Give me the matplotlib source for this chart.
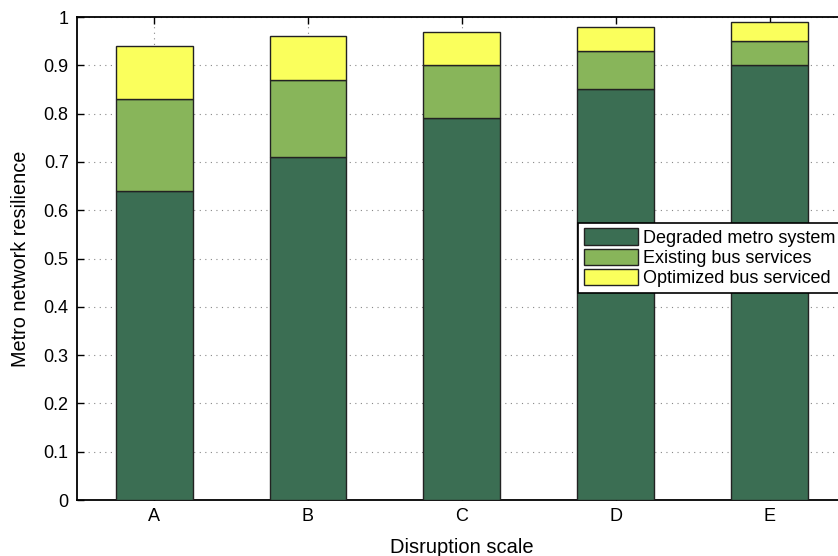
import matplotlib.pyplot as plt
from matplotlib.ticker import FuncFormatter

plt.rcParams['font.family'] = ['Liberation Sans', 'DejaVu Sans']

# values
scales = ['A', 'B', 'C', 'D', 'E']
degraded = [0.64, 0.71, 0.79, 0.85, 0.90]
existing_bus = [0.19, 0.16, 0.11, 0.08, 0.05]
optimized_bus = [0.11, 0.09, 0.07, 0.05, 0.04]

fig = plt.figure(figsize=(8.38, 5.56), dpi=100)
# axes run past the right edge like in the reference
ax = fig.add_axes([0.0919, 0.1007, 0.9188, 0.8687])

x = list(range(1, len(scales) + 1))
bottom2 = [d + e for d, e in zip(degraded, existing_bus)]
edge = '#222222'
b1 = ax.bar(x, degraded, width=0.5, color='#3b6e53', edgecolor=edge, linewidth=1, zorder=3)
b2 = ax.bar(x, existing_bus, bottom=degraded, width=0.5, color='#88b55a', edgecolor=edge, linewidth=1, zorder=3)
b3 = ax.bar(x, optimized_bus, bottom=bottom2, width=0.5, color='#faff5c', edgecolor=edge, linewidth=1, zorder=3)

ax.set_xlim(0.5, 5.5)
ax.set_ylim(0, 1)
ax.set_xticks(x)
ax.set_xticklabels(scales)
ax.set_yticks([i / 10 for i in range(11)])
ax.yaxis.set_major_formatter(FuncFormatter(lambda v, p: ('%g' % round(v, 2))))
ax.tick_params(direction='in', top=True, right=True, length=5, labelsize=13, width=1, pad=6)
ax.grid(True, linestyle=(0, (1, 4)), color='#888888', linewidth=0.8, zorder=0)
for s in ax.spines.values():
    s.set_linewidth(1.3)

ax.set_xlabel('Disruption scale', fontsize=14.5, labelpad=9)
ax.set_ylabel('Metro network resilience', fontsize=14.3, labelpad=10)

leg = ax.legend([b1, b2, b3],
                ['Degraded metro system', 'Existing bus services', 'Optimized bus serviced'],
                loc='upper left', bbox_to_anchor=(0.69, 0.599), bbox_transform=fig.transFigure,
                fontsize=13, fancybox=False, framealpha=1, edgecolor='black',
                borderpad=0.3, labelspacing=0.12, handlelength=3.0, handleheight=1.0,
                handletextpad=0.3, borderaxespad=0)
leg.get_frame().set_linewidth(1.2)
leg.set_zorder(5)

fig.savefig('out.png', dpi=100)
